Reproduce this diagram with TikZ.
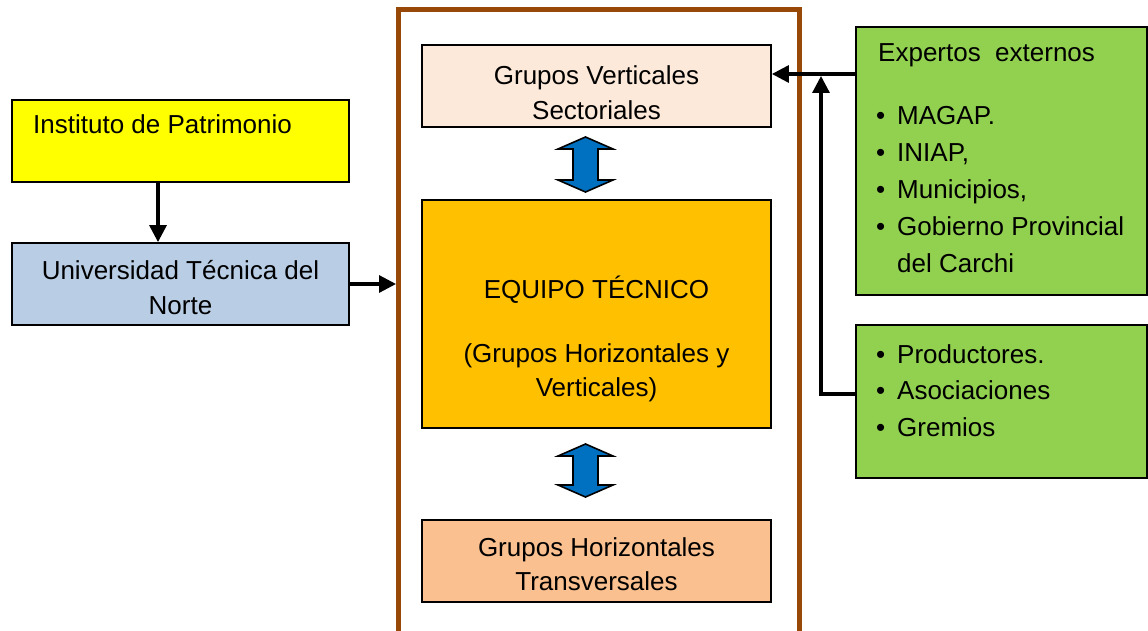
\documentclass[tikz,border=0pt]{standalone}
\usepackage{fontspec}
\setmainfont{Liberation Sans}
\usetikzlibrary{arrows.meta,calc}
\definecolor{cyellow}{HTML}{FFFF00}
\definecolor{cblue}{HTML}{B9CDE5}
\definecolor{cpeach}{HTML}{FDE9D9}
\definecolor{corange}{HTML}{FFC000}
\definecolor{clorange}{HTML}{FAC090}
\definecolor{cgreen}{HTML}{92D050}
\definecolor{carrow}{HTML}{0070C0}
\definecolor{cbrown}{HTML}{984807}
\begin{document}
\begin{tikzpicture}[x=1pt,y=-1pt,
  box/.style={draw=black,line width=1.8pt,rectangle,inner sep=0pt},
  txt/.style={font=\fontsize{26}{35}\selectfont,inner sep=0pt,anchor=base},
  ltxt/.style={txt,anchor=base west},
  arr/.style={line width=3.2pt,-{Triangle[length=17pt,width=17pt]}},
  blockarrow/.style={fill=carrow,draw=black,line width=1.6pt,line join=miter}]
\useasboundingbox (0,0) rectangle (1148,631);
\fill[white] (0,0) rectangle (1148,631);
% frame
\node[draw=cbrown,line width=5pt,rectangle,inner sep=0pt,minimum width=401pt,minimum height=624pt] (frame) at (599,321.5) {};
% boxes
\node[box,fill=cyellow,minimum width=337pt,minimum height=82pt] (inst) at (180.5,141) {};
\node[box,fill=cblue,minimum width=337pt,minimum height=82pt] (univ) at (180.5,284) {};
\node[box,fill=cpeach,minimum width=349pt,minimum height=82pt] (gv) at (596.5,86) {};
\node[box,fill=corange,minimum width=349pt,minimum height=228pt] (eq) at (596.5,314) {};
\node[box,fill=clorange,minimum width=349pt,minimum height=82pt] (gh) at (596.5,561) {};
\node[box,fill=cgreen,minimum width=291pt,minimum height=268pt] (ex) at (1001.5,161) {};
\node[box,fill=cgreen,minimum width=291pt,minimum height=153pt] (prod) at (1001.5,401.5) {};
% texts
\node[ltxt] (t1) at (33,134) {Instituto de Patrimonio};
\node[txt] (t2) at (180.5,279) {Universidad Técnica del};
\node[txt] (t3) at (180.5,314) {Norte};
\node[txt] (t4) at (596.5,85) {Grupos Verticales};
\node[txt] (t5) at (596.5,120) {Sectoriales};
\node[txt] (t6) at (596.5,298) {EQUIPO TÉCNICO};
\node[txt] (t7) at (596.5,362) {(Grupos Horizontales y};
\node[txt] (t8) at (596.5,396) {Verticales)};
\node[txt] (t9) at (596.5,556) {Grupos Horizontales};
\node[txt] (t10) at (596.5,590) {Transversales};
\node[ltxt] (t11) at (878,62) {Expertos\ \ externos};
\node[ltxt] (t12) at (876,125) {\makebox[21pt][l]{\textbullet}MAGAP.};
\node[ltxt] (t13) at (876,162) {\makebox[21pt][l]{\textbullet}INIAP,};
\node[ltxt] (t14) at (876,199) {\makebox[21pt][l]{\textbullet}Municipios,};
\node[ltxt] (t15) at (876,236) {\makebox[21pt][l]{\textbullet}Gobierno Provincial};
\node[ltxt] (t16) at (897,272) {del Carchi};
\node[ltxt] (t17) at (876,363) {\makebox[21pt][l]{\textbullet}Productores.};
\node[ltxt] (t18) at (876,399) {\makebox[21pt][l]{\textbullet}Asociaciones};
\node[ltxt] (t19) at (876,436) {\makebox[21pt][l]{\textbullet}Gremios};
% connectors
\draw[arr] ([xshift=-22.5pt]inst.south) -- ([xshift=-22.5pt]univ.north);
\draw[arr] (univ.east) -- (univ.east -| frame.west);
\coordinate (exout) at (856,74);
\draw[arr] (exout) -- (exout -| gv.east);
\coordinate (prodout) at (856,394);
\coordinate (turn) at (821,394);
\draw[arr] (prodout) -- (turn) -- (821,76);
% block arrows
\draw[blockarrow] (585.5,137) -- (613,149) -- (598,149) -- (598,180) -- (613,180) -- (585.5,192) -- (558,180) -- (573,180) -- (573,149) -- (558,149) -- cycle;
\draw[blockarrow] (585.5,444) -- (613,456) -- (598,456) -- (598,485) -- (613,485) -- (585.5,497) -- (558,485) -- (573,485) -- (573,456) -- (558,456) -- cycle;
\end{tikzpicture}
\end{document}
